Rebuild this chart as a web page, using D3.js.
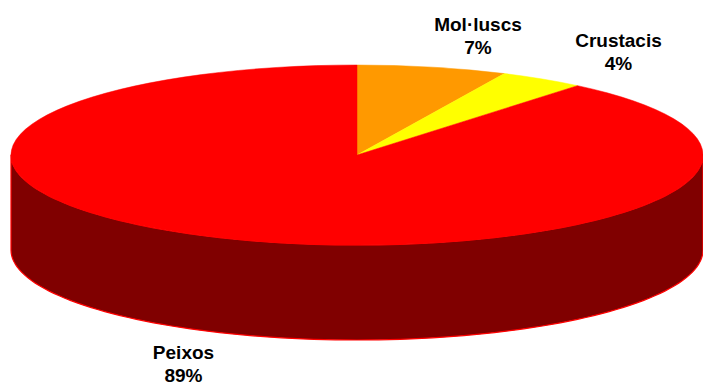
<!DOCTYPE html>
<html>
<head>
<meta charset="utf-8">
<script src="https://cdn.jsdelivr.net/npm/d3@7"></script>
<style>
  html, body { margin: 0; padding: 0; background: #fff; }
  svg { display: block; }
</style>
</head>
<body>
<script>
// Catch composition by group
const categories = ["Mol·luscs", "Crustacis", "Peixos"];
const values = [7, 4, 89];
const topColors = ["#FF9900", "#FFFF00", "#FF0000"];
const sideColors = ["#804C00", "#808000", "#800000"];

const W = 703, H = 387;
const cx = 357, cy = 155, rx = 346, ry = 90, depth = 95;

// Label anchors (centre x, first baseline) for each category
const labelAnchors = [[478, 31], [618.5, 47], [183.5, 359]];

const svg = d3.select("body").append("svg")
  .attr("width", W).attr("height", H);

const pie = d3.pie().sort(null).value(d => d);
const arcs = pie(values);
const total = d3.sum(values);

// point on the rim ellipse for a pie angle (0 = 12 o'clock, clockwise)
const px = a => cx + rx * Math.sin(a);
const py = (a, dz = 0) => cy - ry * Math.cos(a) + dz;

// front walls: only the part of each slice between 90° and 270° is visible
const wallG = svg.append("g");
arcs.forEach((d, i) => {
  const a0 = Math.max(d.startAngle, Math.PI / 2);
  const a1 = Math.min(d.endAngle, 3 * Math.PI / 2);
  if (a1 <= a0) return;
  const steps = d3.range(0, 101).map(k => a0 + (a1 - a0) * k / 100);
  const topEdge = steps.map(a => [px(a), py(a)]);
  const botEdge = steps.slice().reverse().map(a => [px(a), py(a, depth)]);
  wallG.append("path")
    .attr("d", d3.line()(topEdge.concat(botEdge)) + "Z")
    .attr("fill", sideColors[i])
    .attr("stroke", topColors[i])
    .attr("stroke-width", 1.2)
    .attr("stroke-linejoin", "round");
});

// top face: standard arcs squashed vertically into an ellipse
const arcGen = d3.arc().innerRadius(0).outerRadius(rx);
const topG = svg.append("g")
  .attr("transform", `translate(${cx},${cy}) scale(1,${ry / rx})`);
topG.selectAll("path").data(arcs).join("path")
  .attr("d", arcGen)
  .attr("fill", (d, i) => topColors[i])
  .attr("stroke", (d, i) => topColors[i])
  .attr("stroke-width", 0.5)
  .attr("vector-effect", "non-scaling-stroke");

// data labels: name and percentage
const fmt = d3.format(".0%");
const labels = svg.append("g")
  .attr("font-family", "Liberation Sans, Arial, sans-serif")
  .attr("font-weight", "bold")
  .attr("font-size", 19)
  .attr("fill", "#000")
  .attr("text-anchor", "middle");
arcs.forEach((d, i) => {
  const [lx, ly] = labelAnchors[i];
  const t = labels.append("text").attr("x", lx).attr("y", ly);
  t.append("tspan").attr("x", lx).text(categories[i]);
  t.append("tspan").attr("x", lx).attr("dy", 23).text(fmt(values[i] / total));
});
</script>
</body>
</html>
